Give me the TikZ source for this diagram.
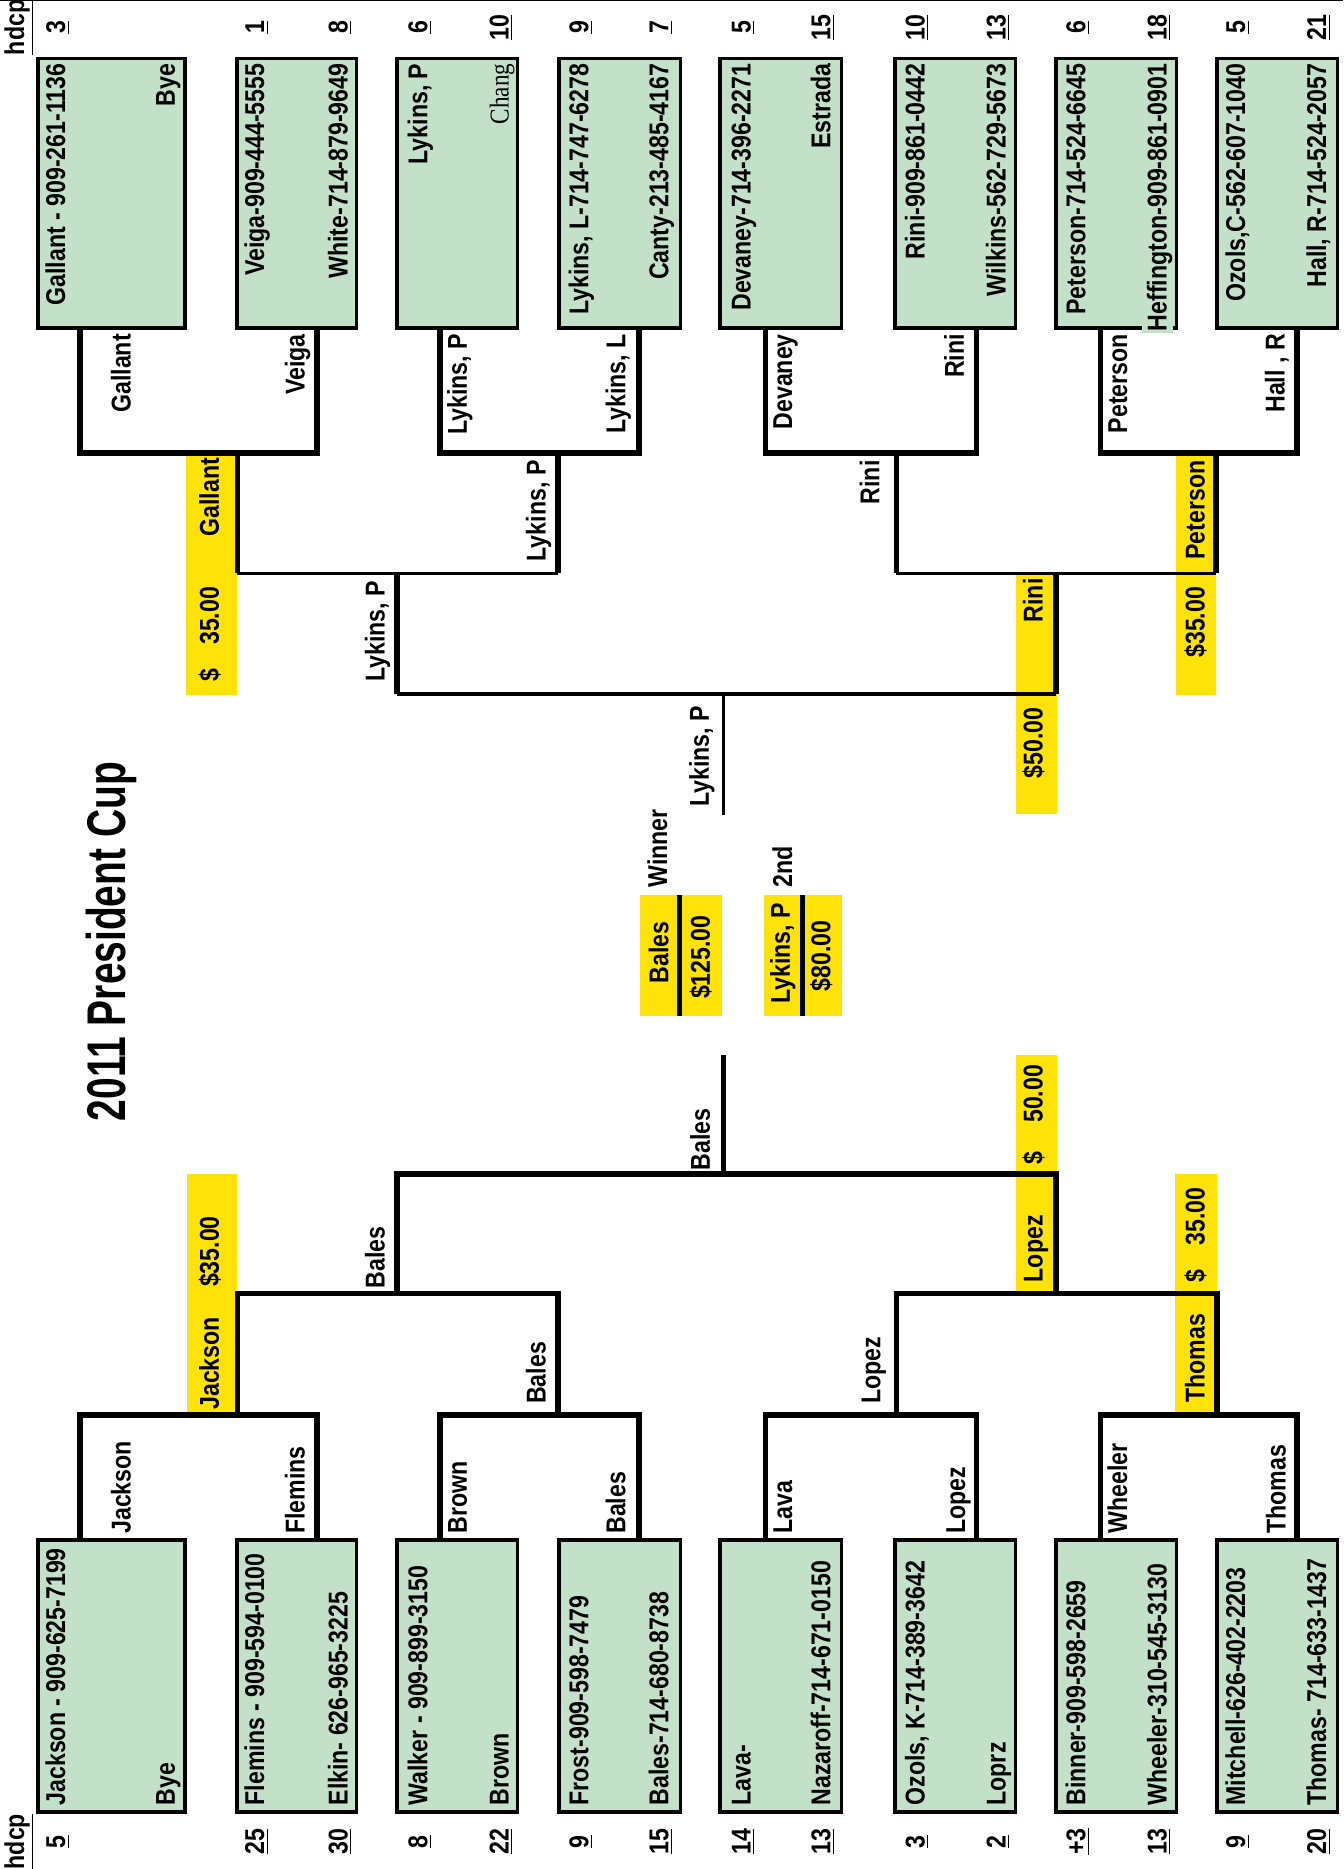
\documentclass[tikz,border=0pt]{standalone}
\usepackage{fontspec}
\setmainfont{Liberation Sans}
\newfontfamily\narrow{Liberation Sans}[FakeStretch=0.85]
\newfontfamily\narrowtitle{Liberation Sans}[FakeStretch=0.715]
\newfontfamily\narrowser{Liberation Serif}[FakeStretch=0.85]
\newcommand\cellfont{\narrow\bfseries\fontsize{13}{15}\selectfont}
\definecolor{cellgreen}{RGB}{195,224,201}
\definecolor{prizeyellow}{RGB}{255,226,8}
\tikzset{
  entry/.style={rotate=90, inner sep=0pt, font=\cellfont},
  up/.style={entry, anchor=mid west},
  down/.style={entry, anchor=mid east},
  hd/.style={entry, anchor=mid},
  cell/.style={draw, fill=cellgreen, line width=0.6mm},
  rung/.style={line width=0.9mm},
  thinrung/.style={line width=0.6mm},
}
\begin{document}
\begin{tikzpicture}[x=0.2mm, y=-0.2mm]
  \useasboundingbox (0,0) rectangle (1127,1568);
  \draw[line width=0.2mm] (0,0.5) -- (1127,0.5);
  % prize cells
  \foreach \xa/\ya/\xb/\yb in {157/985/199/1186, 986/985/1021/1186, 852/885/887/1085,
      156/382/199/583, 987/382/1020/583, 852/480/887/683, 537/751/606/852, 641/751/706/852} {
    \fill[prizeyellow] (\xa,\ya) rectangle (\xb,\yb);
  }
  % player boxes, top and bottom
  \foreach \l/\r in {32/155,199/299,333/434,469/571,604/706,751/852,886/987,1021/1122} {
    \draw[cell] (\l,49) rectangle (\r,275);
    \draw[cell] (\l,1292) rectangle (\r,1520);
  }
  \fill[cellgreen] (958,266) rectangle (984,279);
  % first round
  \foreach \l/\r in {67/266,369/536,642/819,923/1088} {
    \draw[rung] (\l,275) -- (\l,380) -- (\r,380) -- (\r,275);
    \draw[rung] (\l,1292) -- (\l,1187) -- (\r,1187) -- (\r,1292);
  }
  % second round
  \draw[rung] (199,380) -- (199,481);
  \draw[rung] (468,380) -- (468,481);
  \draw[thinrung] (199,481) -- (468,481);
  \draw[rung] (752,380) -- (752,481);
  \draw[rung] (1020,380) -- (1020,481);
  \draw[thinrung] (752,481) -- (1020,481);
  \draw[rung] (199,1187) -- (199,1085) -- (468,1085) -- (468,1187);
  \draw[rung] (752,1187) -- (752,1085) -- (1021,1085) -- (1021,1187);
  % semi finals and final
  \draw[rung] (333,481) -- (333,582);
  \draw[rung] (886,481) -- (886,582);
  \draw[thinrung] (333,582) -- (886,582);
  \draw[rung] (333,1085) -- (333,985) -- (886,985) -- (886,1085);
  \draw[thinrung] (607,582) -- (607,684);
  \draw[rung] (607,985) -- (607,885);
  \draw[line width=0.8mm] (570,751) -- (570,852);
  \draw[line width=0.8mm] (673,751) -- (673,852);

  % names in the boxes
  \foreach \x/\t [count=\i] in {50/{Jackson - 909-625-7199}, 142/Bye, 217/{Flemins - 909-594-0100},
      287/{Elkin- 626-965-3225}, 354/{Walker - 909-899-3150}, 422/Brown, 489/{Frost-909-598-7479},
      556/{Bales-714-680-8738}, 625/Lava-, 692/{Nazaroff-714-671-0150}, 771/{Ozols, K-714-389-3642},
      839/Loprz, 906/{Binner-909-598-2659}, 974/{Wheeler-310-545-3130}, 1040/{Mitchell-626-402-2203},
      1108/{Thomas- 714-633-1437}} {
    \node[up] (bn\i) at (\x,1515) {\t};
  }
  \foreach \x/\t [count=\i] in {50/{Gallant - 909-261-1136}, 142/Bye, 217/{Veiga-909-444-5555},
      287/{White-714-879-9649}, 354/{Lykins, P}, 489/{Lykins, L-714-747-6278},
      556/{Canty-213-485-4167}, 625/{Devaney-714-396-2271}, 692/Estrada, 771/{Rini-909-861-0442},
      839/{Wilkins-562-729-5673}, 906/{Peterson-714-524-6645}, 974/{Heffington-909-861-0901},
      1040/{Ozols,C-562-607-1040}, 1108/{Hall, R-714-524-2057}} {
    \node[down] (tn\i) at (\x,53) {\t};
  }
  \node[down, font=\narrowser\fontsize{13}{15}\selectfont] (chang) at (422,53) {Chang};

  % hdcp
  \node[entry] (hdb) at (16,1545) {\underline{hdcp}};
  \node[entry] (hdt) at (16,23) {\underline{hdcp}};
  \foreach \x/\n [count=\i] in {50/5, 217/25, 287/30, 354/8, 422/22, 489/9, 556/15, 625/14,
      692/13, 771/3, 839/2, 906/+3, 974/13, 1040/9, 1108/20} {
    \node[hd] (hb\i) at (\x,1545) {\underline{\n}};
  }
  \foreach \x/\n [count=\i] in {50/3, 217/1, 287/8, 354/6, 422/10, 489/9, 556/7, 625/5,
      692/15, 771/10, 839/13, 906/6, 974/18, 1040/5, 1108/21} {
    \node[hd] (ht\i) at (\x,23) {\underline{\n}};
  }

  % who went through
  \foreach \x/\t [count=\i] in {105/Jackson, 251/Flemins, 387/Brown, 520/Bales, 660/Lava,
      805/Lopez, 941/Wheeler, 1074/Thomas} {
    \node[up] (wb\i) at (\x,1287) {\t};
  }
  \foreach \x/\t [count=\i] in {105/Gallant, 251/Veiga, 387/{Lykins, P}, 520/{Lykins, L},
      660/Devaney, 804/Rini, 941/Peterson, 1073/{Hall , R}} {
    \node[down] (wt\i) at (\x,280) {\t};
  }
  \node[up] (rb1) at (453,1178) {Bales};
  \node[up] (rb2) at (734,1178) {Lopez};
  \node[up] (sb) at (318,1081) {Bales};
  \node[up] (fb) at (591,982) {Bales};
  \node[down] (rt1) at (453,386) {Lykins, P};
  \node[down] (rt2) at (733,386) {Rini};
  \node[down] (st) at (318,487) {Lykins, P};
  \node[down] (ft) at (590,592) {Lykins, P};

  % prize cells text
  \node[up] (pj) at (179,1183) {Jackson};
  \node[up] (pjm) at (179,1080) {\$35.00};
  \node[up] (pth) at (1006,1177) {Thomas};
  \node[up] (pthd) at (1006,1076) {\$};
  \node[down] (pthm) at (1006,996) {35.00};
  \node[up] (plo) at (870,1076) {Lopez};
  \node[up] (plod) at (870,977) {\$};
  \node[down] (plom) at (870,893) {50.00};
  \node[down] (pga) at (179,384) {Gallant};
  \node[up] (pgad) at (179,572) {\$};
  \node[down] (pgam) at (179,492) {35.00};
  \node[down] (ppe) at (1006,386) {Peterson};
  \node[down] (ppem) at (1006,492) {\$35.00};
  \node[down] (pri) at (870,485) {Rini};
  \node[down] (prim) at (870,593) {\$50.00};

  % winner and second
  \node[up] (winner) at (555,745) {Winner};
  \node[up] (second) at (660,745) {2nd};
  \node[hd] (wname) at (556,799) {Bales};
  \node[hd] (wmoney) at (591,803) {\$125.00};
  \node[hd] (sname) at (658,800) {Lykins, P};
  \node[hd] (smoney) at (692,802) {\$80.00};

  % title
  \node[entry, anchor=mid, font=\narrowtitle\bfseries\fontsize{26}{29}\selectfont] (title) at (101,790) {2011 President Cup};
\end{tikzpicture}
\end{document}
